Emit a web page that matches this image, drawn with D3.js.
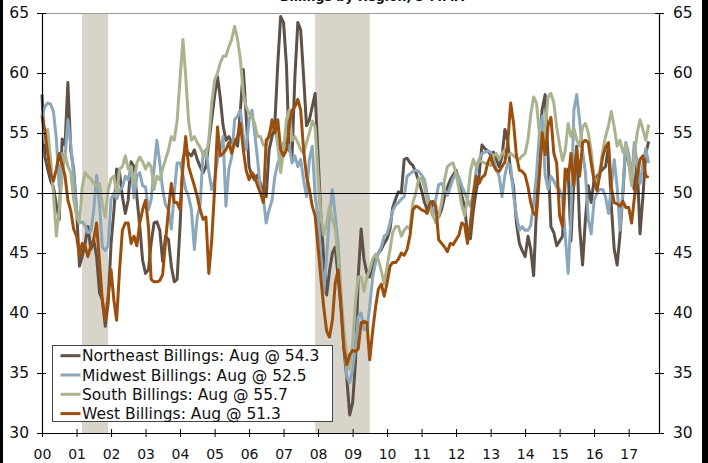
<!DOCTYPE html>
<html>
<head>
<meta charset="utf-8">
<script src="https://cdn.jsdelivr.net/npm/d3@7"></script>
<style>
  html, body { margin: 0; padding: 0; background: #fff; }
  svg { display: block; font-family: "DejaVu Sans", Verdana, sans-serif; }
</style>
</head>
<body>
<svg id="chart" width="708" height="463"></svg>
<script>
// monthly values, Jan 2000 .. Aug 2017
const startMonth = new Date(2000, 0, 1);

const northeast = [
  58.2, 53.0, 52.0, 51.0, 50.5, 49.0, 47.8, 54.5, 54.0, 59.2, 53.5, 52.0,
  48.6, 43.9, 44.7, 45.8, 47.2, 45.3, 46.1, 44.7, 41.7, 41.1, 38.9, 40.8,
  45.8, 48.6, 52.0, 51.7, 49.7, 48.3, 49.4, 52.6, 52.2, 49.7, 47.2, 44.4,
  43.3, 43.6, 45.8, 47.5, 47.6, 46.9, 44.3, 46.4, 46.1, 43.9, 42.6, 42.8,
  47.2, 52.8, 53.6, 53.3, 53.1, 53.6, 52.8, 52.2, 51.7, 52.2, 54.2, 56.1,
  58.1, 59.7, 58.0, 55.6, 54.4, 54.7, 54.2, 54.4, 53.9, 56.9, 60.3, 56.4,
  52.2, 51.4, 51.1, 51.5, 50.8, 50.1, 49.7, 53.6, 54.7, 55.8, 60.8, 64.7,
  64.2, 60.6, 53.6, 53.1, 59.7, 64.2, 63.6, 59.7, 55.6, 56.1, 57.2, 58.3,
  53.1, 48.0, 44.5, 41.5, 43.5, 45.0, 45.5, 43.0, 40.3, 37.0, 34.5, 31.5,
  32.5, 36.0, 43.0, 47.0, 44.5, 43.3, 43.0, 44.0, 44.7, 45.0, 45.3, 45.8,
  46.2, 47.0, 48.8, 49.5, 50.1, 50.0, 52.8, 52.9, 52.5, 52.3, 51.7, 51.0,
  50.2, 49.2, 48.6, 49.3, 49.0, 48.5, 48.0, 48.6, 49.7, 50.5, 51.1, 51.5,
  51.9, 51.0, 49.8, 48.8, 46.6, 46.2, 48.5, 50.2, 51.5, 54.0, 53.7, 53.5,
  53.2, 53.4, 52.8, 52.2, 53.0, 55.3, 54.3, 51.7, 50.5, 47.5, 45.8, 45.2,
  44.7, 46.4, 45.3, 43.1, 48.6, 54.2, 57.0, 58.2, 53.0, 47.2, 46.7, 45.6,
  46.0, 46.4, 51.1, 52.0, 46.0, 51.1, 53.9, 47.2, 44.0, 47.8, 50.6, 49.2,
  51.1, 51.4, 51.7, 52.0, 52.2, 53.9, 49.0, 45.3, 44.0, 46.5, 50.0, 53.9,
  52.5, 51.4, 50.3, 52.5, 46.6, 49.7, 53.3, 54.3
];

const midwest = [
  56.4, 57.2, 57.5, 57.4, 56.8, 54.5, 50.5, 53.3, 53.0, 56.1, 54.0, 51.5,
  48.6, 47.5, 47.6, 47.3, 46.7, 46.8, 48.5, 51.5, 49.0, 45.5, 45.2, 45.6,
  49.5, 50.0, 49.5, 50.2, 50.5, 51.4, 51.1, 52.2, 49.6, 51.4, 51.7, 50.6,
  50.5, 48.6, 49.4, 52.0, 54.4, 52.5, 50.3, 49.0, 48.6, 47.0, 50.0, 52.5,
  52.5, 51.5, 50.3, 49.7, 48.6, 45.3, 48.0, 49.0, 53.3, 53.6, 51.8, 50.3,
  51.0, 52.8, 53.6, 54.7, 48.9, 52.0, 53.0, 56.1, 56.4, 56.9, 54.7, 53.6,
  56.1, 56.9, 55.0, 52.8, 50.3, 49.7, 47.5, 48.6, 49.4, 51.4, 52.5, 53.1,
  54.2, 54.2, 53.9, 52.5, 53.1, 52.2, 52.8, 51.1, 49.7, 52.8, 53.9, 49.7,
  48.0, 44.4, 41.7, 44.7, 48.1, 50.3, 48.1, 45.8, 41.4, 38.0, 34.7, 34.2,
  35.3, 37.2, 39.7, 40.0, 38.6, 38.6, 40.5, 43.0, 44.2, 45.0, 45.5, 46.4,
  46.6, 47.5, 48.5, 49.0, 49.2, 49.5, 49.7, 51.4, 51.6, 51.8, 51.9, 51.8,
  51.5, 51.1, 50.0, 49.0, 48.1, 49.5, 50.7, 50.8, 50.3, 49.8, 50.5, 51.2,
  51.7, 51.3, 50.6, 50.0, 49.4, 48.9, 50.0, 51.9, 52.8, 53.3, 53.4, 53.5,
  53.4, 52.8, 52.0, 51.4, 49.7, 51.5, 52.5, 52.2, 49.8, 48.1, 46.9, 47.2,
  46.9, 46.9, 47.3, 49.2, 51.5, 55.0, 56.4, 51.5, 50.3, 51.4, 51.0, 50.5,
  50.3, 49.5, 46.5, 43.3, 48.0, 56.9, 58.2, 56.0, 53.5, 51.7, 47.8, 46.6,
  49.4, 50.0, 50.3, 50.3, 49.7, 48.3, 50.5, 52.8, 50.5, 46.9, 50.3, 54.2,
  53.3, 51.1, 54.2, 52.5, 50.8, 52.4, 53.7, 52.5
];

const south = [
  56.7, 54.2, 55.3, 52.8, 50.0, 46.4, 48.6, 51.4, 53.3, 52.2, 51.7, 49.5,
  48.0, 47.5, 50.5, 51.7, 51.4, 51.2, 50.8, 50.6, 50.8, 49.0, 48.0, 50.2,
  51.2, 51.4, 49.8, 52.0, 52.2, 53.1, 52.0, 52.2, 50.8, 52.5, 53.0, 52.6,
  52.0, 52.5, 52.2, 50.3, 51.4, 51.1, 52.0, 52.8, 53.6, 54.7, 54.4, 56.0,
  59.5, 62.8, 59.7, 56.0, 54.4, 54.7, 54.2, 53.8, 53.2, 53.0, 54.4, 57.5,
  59.4, 60.0, 60.8, 61.4, 61.4, 62.2, 62.8, 63.9, 62.8, 61.1, 58.3, 57.2,
  56.6, 56.4, 55.8, 54.7, 54.7, 54.0, 53.9, 55.0, 55.3, 55.6, 53.9, 51.7,
  53.5, 56.1, 56.9, 54.4, 54.7, 54.2, 53.6, 53.3, 54.2, 55.0, 56.0, 55.5,
  51.5, 48.0, 46.5, 47.5, 48.9, 47.8, 47.0, 44.5, 41.0, 38.5, 36.5, 35.3,
  37.5, 41.0, 43.0, 43.0, 41.8, 43.0, 43.6, 44.5, 44.9, 44.4, 43.5, 42.4,
  43.9, 45.3, 46.7, 47.2, 47.2, 46.4, 46.9, 47.2, 47.0, 49.2, 50.0, 51.2,
  51.2, 50.5, 49.4, 48.6, 48.1, 47.5, 48.1, 49.2, 51.1, 52.2, 52.4, 52.5,
  51.6, 50.3, 49.0, 48.1, 49.5, 51.8, 52.8, 52.2, 52.8, 52.6, 52.5, 52.4,
  52.3, 53.1, 53.3, 52.8, 53.3, 53.6, 53.1, 53.3, 53.1, 52.9, 52.8, 53.1,
  53.3, 54.5, 56.5, 58.0, 57.5, 55.0, 53.6, 55.5, 58.0, 58.3, 57.5, 55.5,
  54.0, 52.7, 53.5, 55.8, 54.7, 55.4, 54.4, 53.9, 55.5, 55.8, 55.0, 53.5,
  51.3, 50.6, 51.8, 53.5, 54.7, 55.6, 56.8, 55.5, 53.9, 54.4, 53.4, 54.0,
  52.5, 50.6, 53.0, 55.0, 56.1, 55.3, 54.4, 55.7
];

const west = [
  56.4, 55.2, 53.3, 51.6, 51.0, 52.0, 53.3, 52.4, 51.4, 49.4, 48.5, 47.0,
  46.4, 44.7, 45.8, 45.6, 44.7, 45.6, 46.1, 47.5, 44.2, 41.0, 39.4, 41.4,
  43.6, 41.0, 39.4, 43.6, 46.9, 47.5, 47.5, 45.8, 46.4, 45.6, 47.5, 48.6,
  49.4, 47.2, 42.8, 42.6, 42.6, 42.7, 43.2, 46.0, 48.6, 50.8, 49.2, 49.2,
  48.6, 52.2, 54.7, 52.2, 51.4, 50.6, 49.7, 48.6, 47.8, 48.0, 43.3, 46.0,
  50.3, 55.5, 53.1, 53.3, 53.6, 54.2, 53.3, 54.2, 54.7, 55.8, 53.6, 51.9,
  51.1, 51.7, 51.4, 50.6, 50.0, 49.2, 54.4, 54.7, 56.1, 55.0, 56.1, 53.6,
  53.1, 53.6, 55.6, 56.9, 57.2, 57.8, 56.9, 53.6, 51.4, 50.3, 48.9, 48.1,
  45.5, 42.8, 40.5, 38.5, 38.0, 39.4, 42.5, 43.6, 40.5, 37.0, 35.7, 36.5,
  36.9, 36.8, 37.0, 39.2, 39.3, 39.2, 36.1, 38.5, 40.5, 42.0, 42.4, 41.4,
  42.5, 43.9, 44.2, 44.2, 44.5, 45.0, 44.8, 45.3, 46.5, 48.6, 48.9, 48.8,
  48.6, 48.5, 48.3, 49.2, 49.3, 48.9, 46.1, 45.8, 45.5, 45.1, 45.8, 45.7,
  46.1, 46.5, 47.5, 47.3, 45.8, 47.5, 49.7, 51.4, 50.8, 51.3, 51.5, 52.5,
  53.1, 52.3, 51.9, 51.8, 52.2, 52.6, 54.2, 57.5, 55.8, 53.1, 51.9, 51.8,
  51.5, 50.5, 49.2, 48.3, 48.1, 51.4, 55.0, 53.2, 55.6, 56.3, 53.3, 52.5,
  48.1, 47.2, 52.0, 51.0, 53.3, 50.6, 53.6, 51.4, 54.2, 54.4, 54.2, 52.5,
  51.0, 50.2, 51.5, 53.0, 53.8, 54.2, 50.5, 49.2, 49.1, 48.9, 49.3, 48.8,
  48.8, 47.5, 49.5, 51.3, 52.8, 53.1, 51.4, 51.3
];

const seriesLabels = [
  "Northeast Billings: Aug @ 54.3",
  "Midwest Billings: Aug @ 52.5",
  "South Billings: Aug @ 55.7",
  "West Billings: Aug @ 51.3"
];
const seriesColors = ["#5e5147", "#8aa7bb", "#aab38e", "#9c4f0d"];

const yearLabels = ["00","01","02","03","04","05","06","07","08","09","10","11","12","13","14","15","16","17"];
const yTicks = [30, 35, 40, 45, 50, 55, 60, 65];
const recessions = [
  [new Date(2001, 2, 1), new Date(2001, 11, 1)],
  [new Date(2007, 11, 1), new Date(2009, 6, 1)]
];

const svg = d3.select("#chart");
const plotLeft = 42, plotRight = 659, plotTop = 13, plotBottom = 433;

const x = d3.scaleTime()
  .domain([startMonth, new Date(2017, 10, 18)])
  .range([plotLeft, plotRight]);
const y = d3.scaleLinear().domain([30, 65]).range([plotBottom, plotTop]);

svg.append("rect").attr("width", 708).attr("height", 463).attr("fill", "#fff");

// recession shading
svg.selectAll("rect.rec")
  .data(recessions)
  .join("rect")
  .attr("class", "rec")
  .attr("x", d => x(d[0]))
  .attr("width", d => x(d[1]) - x(d[0]))
  .attr("y", plotTop)
  .attr("height", plotBottom - plotTop)
  .attr("fill", "#d8d4c9");

// top frame
svg.append("line")
  .attr("x1", plotLeft).attr("x2", plotRight)
  .attr("y1", plotTop + 0.5).attr("y2", plotTop + 0.5)
  .attr("stroke", "#999").attr("stroke-width", 1.2);

// lines
const line = d3.line()
  .x((d, i) => x(d3.timeMonth.offset(startMonth, i)))
  .y(d => y(d));

const allSeries = [northeast, midwest, south, west];
svg.selectAll("path.series")
  .data(allSeries)
  .join("path")
  .attr("class", "series")
  .attr("d", line)
  .attr("fill", "none")
  .attr("stroke", (d, i) => seriesColors[i])
  .attr("stroke-width", 3)
  .attr("stroke-linejoin", "round");

// 50 line, drawn over the series (half pixel so it stays crisp)
svg.append("line")
  .attr("x1", plotLeft).attr("x2", plotRight)
  .attr("y1", Math.round(y(50)) + 0.5).attr("y2", Math.round(y(50)) + 0.5)
  .attr("stroke", "#000").attr("stroke-width", 1);

// axes
const yearDates = yearLabels.map((d, i) => new Date(2000 + i, 0, 1));

const yl = svg.append("g")
  .attr("transform", `translate(${plotLeft},0)`)
  .call(d3.axisLeft(y).tickValues(yTicks).tickSize(5).tickSizeOuter(0).tickPadding(8));
yl.selectAll(".tick line").attr("x1", 4);

const yr = svg.append("g")
  .attr("transform", `translate(${plotRight},0)`)
  .call(d3.axisRight(y).tickValues(yTicks).tickSize(5).tickSizeOuter(0).tickPadding(9));
yr.selectAll(".tick line").attr("x1", -4);

const xb = svg.append("g")
  .attr("transform", `translate(0,${plotBottom})`)
  .call(d3.axisBottom(x).tickValues(yearDates).tickFormat((d, i) => yearLabels[i])
    .tickSize(4).tickSizeOuter(0).tickPadding(12));
xb.selectAll(".tick line").attr("y1", -4);

[yl, yr, xb].forEach(g => {
  g.select(".domain").attr("stroke", "#000").attr("stroke-width", 1.2);
  g.selectAll(".tick line").attr("stroke", "#000");
  g.selectAll("text").attr("fill", "#111").attr("font-family", "DejaVu Sans, Verdana, sans-serif");
});
yl.selectAll("text").attr("font-size", 15.5);
yr.selectAll("text").attr("font-size", 15.5);
xb.selectAll("text").attr("font-size", 14);

// legend
const lg = svg.append("g");
lg.append("rect")
  .attr("x", 52.5).attr("y", 345.5)
  .attr("width", 280).attr("height", 76)
  .attr("fill", "#fff").attr("stroke", "#444").attr("stroke-width", 1);
const rows = lg.selectAll("g.row")
  .data(seriesLabels)
  .join("g")
  .attr("class", "row")
  .attr("transform", (d, i) => `translate(0,${355.7 + i * 19.3})`);
rows.append("line")
  .attr("x1", 60.5).attr("x2", 80.5)
  .attr("stroke", (d, i) => seriesColors[i])
  .attr("stroke-width", 3);
rows.append("text")
  .attr("x", 82)
  .attr("dy", "0.36em")
  .attr("font-size", 15.5)
  .attr("fill", "#111")
  .text(d => d);

// title, cut off by the top edge as in the source image
svg.append("text")
  .attr("x", 372).attr("y", 1)
  .attr("text-anchor", "middle")
  .attr("font-size", 12.5)
  .attr("font-weight", "bold")
  .attr("fill", "#111")
  .text("Billings by Region, 3-MMA");

// dark side edges
svg.append("rect").attr("x", 0).attr("y", 0).attr("width", 3).attr("height", 463).attr("fill", "#000");
svg.append("rect").attr("x", 702).attr("y", 0).attr("width", 6).attr("height", 463).attr("fill", "#000");
</script>
</body>
</html>
